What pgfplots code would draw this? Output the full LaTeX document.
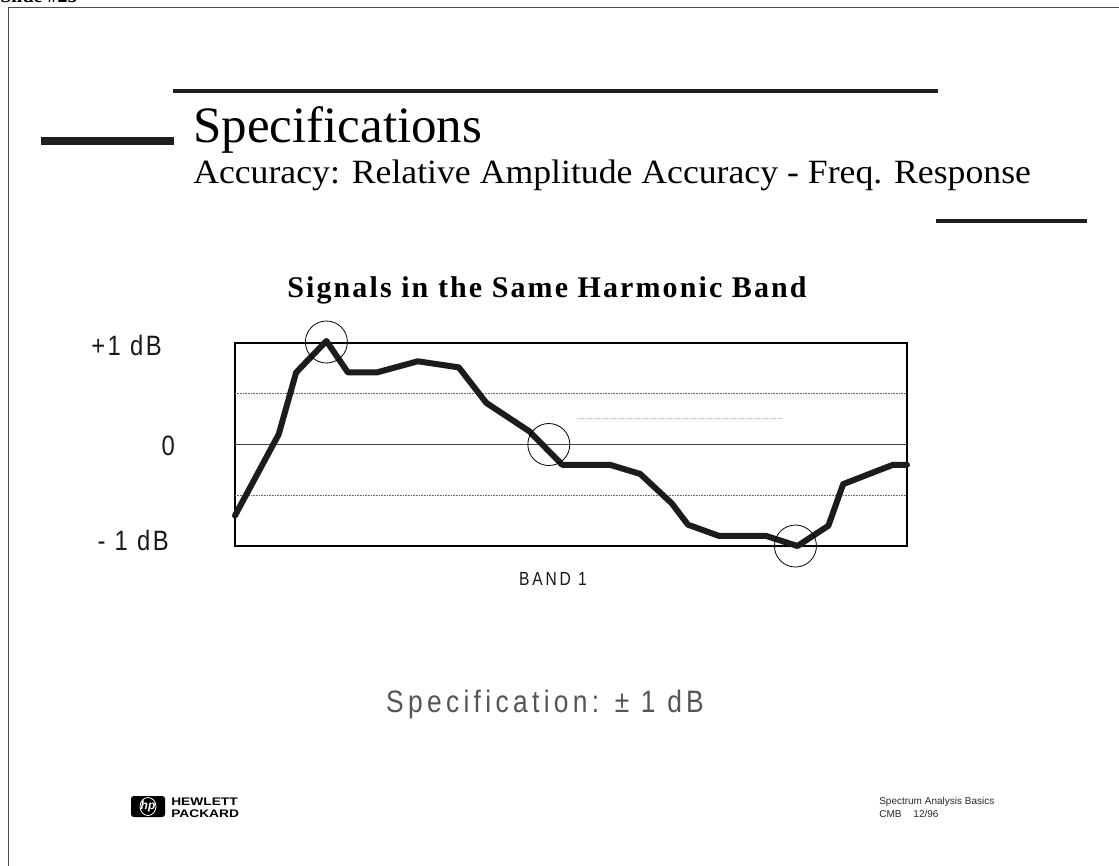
\documentclass[border=0pt]{standalone}
\usepackage{pgfplots}
\pgfplotsset{compat=1.18}
\usepackage{fontspec}
\setmainfont{Liberation Serif}
\newfontfamily\subfont[FakeStretch=1.05]{Liberation Serif}
\newfontfamily\labfont[FakeStretch=0.85,LetterSpace=9]{Liberation Sans}
\newfontfamily\specfont[FakeStretch=0.85,LetterSpace=14]{Liberation Sans}
\newfontfamily\bandfont[FakeStretch=0.82,LetterSpace=15]{Liberation Sans}
\newfontfamily\footfont{Liberation Sans}
\newfontfamily\hpfont[FakeStretch=1.25]{Liberation Sans}
\newfontfamily\titlefont[LetterSpace=7]{Liberation Serif}
\definecolor{curve}{HTML}{1C1C1C}
\definecolor{specgray}{HTML}{555555}

\pgfplotstableread{
x y
0 -0.70
6.5 0.10
9.1 0.71
13.6 1.02
16.8 0.71
21.1 0.71
27.2 0.82
33.3 0.76
37.4 0.41
43.8 0.13
48.7 -0.20
55.8 -0.20
60.3 -0.29
65.0 -0.58
67.4 -0.79
72.0 -0.90
79.0 -0.90
83.7 -1.00
88.3 -0.80
90.5 -0.39
97.9 -0.20
100 -0.20
}\curvedata

\begin{document}
\begin{tikzpicture}
\begin{scope}[x=0.75pt,y=-0.75pt]
\path[use as bounding box] (0,0) rectangle (1119,865);
\clip (0,0) rectangle (1119,865);
% slide label (cut at top)
\node[anchor=base west, inner sep=0pt, font=\fontsize{15pt}{18pt}\selectfont\bfseries] at (0,2) {Slide \#25};
% frame
\draw[line width=0.75pt, black!70] (8,880) -- (8,7) -- (1130,7);
% bars
\fill[black!88] (173,89) rectangle (938,93);
\fill[black!88] (41,137) rectangle (174,145);
\fill[black!88] (936,219) rectangle (1087,223);
% titles
\node[anchor=base west, inner sep=0pt, font=\fontsize{38.25pt}{40pt}\selectfont] at (193,142) {Specifications};
\node[anchor=base west, inner sep=0pt, font=\subfont\fontsize{25.5pt}{28pt}\selectfont] at (193,183) {Accuracy: Relative Amplitude Accuracy - Freq. Response};
\node[anchor=base, inner sep=0pt, font=\titlefont\fontsize{22.5pt}{25pt}\selectfont\bfseries] at (547,297) {Signals in the Same Harmonic Band};
% y labels
\node[anchor=base east, inner sep=0pt, font=\labfont\fontsize{21pt}{24pt}\selectfont, text=black!90] at (162,355) {+1 dB};
\node[anchor=base east, inner sep=0pt, font=\labfont\fontsize{21pt}{24pt}\selectfont, text=black!90] at (175,455) {0};
\node[anchor=base east, inner sep=0pt, font=\labfont\fontsize{21pt}{24pt}\selectfont, text=black!90] at (169,550) {- 1 dB};
% band label
\node[anchor=base, inner sep=0pt, font=\bandfont\fontsize{14.25pt}{16pt}\selectfont, text=black!90] at (553,585) {BAND 1};
% spec
\node[anchor=base, inner sep=0pt, font=\specfont\fontsize{23.25pt}{26pt}\selectfont, text=specgray] at (545,712) {Specification: ± 1 dB};
% HP logo
\fill[black, rounded corners=2pt] (131,796) rectangle (165,817);
\draw[white, line width=0.6pt] (148,806.5) ellipse (8 and 9);
\node[text=white, inner sep=0pt, font=\footfont\fontsize{9pt}{9pt}\selectfont\bfseries\itshape] at (148,806.5) {hp};
\node[anchor=base west, inner sep=0pt, font=\hpfont\fontsize{8.25pt}{9pt}\selectfont\bfseries] at (171,805) {HEWLETT};
\node[anchor=base west, inner sep=0pt, font=\hpfont\fontsize{8.25pt}{9pt}\selectfont\bfseries] at (171,817) {PACKARD};
% footer right
\node[anchor=base west, inner sep=0pt, font=\footfont\fontsize{7.5pt}{9pt}\selectfont, text=black!85] at (879,804) {Spectrum Analysis Basics};
\node[anchor=base west, inner sep=0pt, font=\footfont\fontsize{7.5pt}{9pt}\selectfont, text=black!85] at (879,817) {CMB\hspace{1.2em}12/96};
\end{scope}
\begin{axis}[
  at={(176.25pt,-409.5pt)}, anchor=south west,
  width=504pt, height=152.25pt, scale only axis,
  xmin=0, xmax=100, ymin=-1, ymax=1,
  xtick=\empty, ytick=\empty,
  axis line style={black, line width=0.8pt},
  clip=false,
]
\addplot[black!75, line width=0.8pt] coordinates {(0,0) (100,0)};
\addplot[black!60, line width=0.6pt, dash pattern=on 0.6pt off 0.6pt] coordinates {(0,0.5) (100,0.5)};
\addplot[black!60, line width=0.6pt, dash pattern=on 0.6pt off 0.6pt] coordinates {(0,-0.5) (100,-0.5)};
\addplot[black!25, line width=0.6pt, dash pattern=on 0.6pt off 0.6pt] coordinates {(50.9,0.26) (81.6,0.26)};
\addplot[curve, line width=4.5pt, line cap=round, line join=round] table[x=x,y=y] {\curvedata};
\addplot[only marks, mark=o, mark size=15.75pt, mark options={black, line width=0.6pt}] coordinates {(13.6,1.01) (46.7,0) (83.4,-1.0)};
\end{axis}
\end{tikzpicture}
\end{document}
